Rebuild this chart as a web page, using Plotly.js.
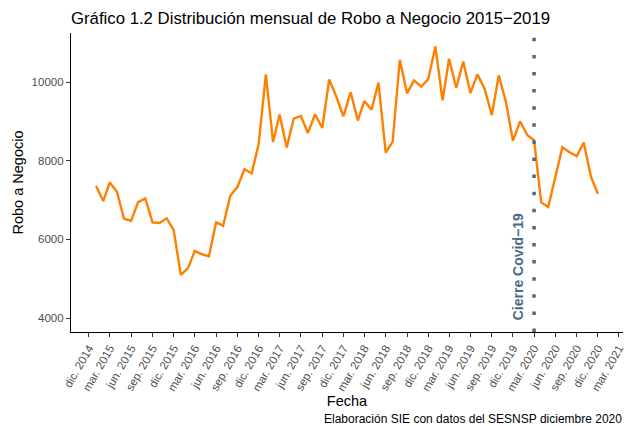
<!DOCTYPE html>
<html>
<head>
<meta charset="utf-8">
<script src="https://cdn.plot.ly/plotly-3.0.1.min.js"></script>
<style>html,body{margin:0;padding:0;background:#fff;}#chart{width:629px;height:426px;}</style>
</head>
<body>
<div id="chart"></div>
<script>
// Monthly series Jan 2015 – Dec 2020
const years = [2015, 2016, 2017, 2018, 2019, 2020];
const robo2015 = [7355, 6974, 7448, 7210, 6525, 6475, 6949, 7043, 6434, 6416, 6535, 6239];
const robo2016 = [5098, 5268, 5706, 5622, 5572, 6434, 6348, 7109, 7337, 7786, 7677, 8420];
const robo2017 = [10195, 8478, 9173, 8336, 9072, 9138, 8707, 9181, 8833, 10068, 9620, 9130];
const robo2018 = [9746, 9021, 9518, 9300, 9985, 8210, 8478, 10568, 9713, 10043, 9883, 10068];
const robo2019 = [10905, 9536, 10593, 9848, 10525, 9721, 10195, 9831, 9155, 10170, 9493, 8504];
const robo2020 = [9003, 8648, 8521, 6941, 6822, 7591, 8344, 8217, 8116, 8463, 7591, 7160];

const tickVals = ['2014-12-01','2015-03-01','2015-06-01','2015-09-01','2015-12-01','2016-03-01','2016-06-01','2016-09-01','2016-12-01','2017-03-01','2017-06-01','2017-09-01','2017-12-01','2018-03-01','2018-06-01','2018-09-01','2018-12-01','2019-03-01','2019-06-01','2019-09-01','2019-12-01','2020-03-01','2020-06-01','2020-09-01','2020-12-01','2021-03-01'];
const tickText = ['dic. 2014','mar. 2015','jun. 2015','sep. 2015','dic. 2015','mar. 2016','jun. 2016','sep. 2016','dic. 2016','mar. 2017','jun. 2017','sep. 2017','dic. 2017','mar. 2018','jun. 2018','sep. 2018','dic. 2018','mar. 2019','jun. 2019','sep. 2019','dic. 2019','mar. 2020','jun. 2020','sep. 2020','dic. 2020','mar. 2021'];
const yTickVals = [4000, 6000, 8000, 10000];
const yTickText = ['4000', '6000', '8000', '10000'];

const cierreFecha = '2020-03-01';
const cierreTexto = 'Cierre Covid\u221219';
const tituloTexto = 'Gráfico 1.2 Distribución mensual de Robo a Negocio 2015\u22122019';
const fuenteTexto = 'Elaboración SIE con datos del SESNSP diciembre 2020';

const series = [robo2015, robo2016, robo2017, robo2018, robo2019, robo2020];
const fechas = [];
const valores = [];
years.forEach((yr, i) => {
  series[i].forEach((v, m) => {
    fechas.push(yr + '-' + String(m + 1).padStart(2, '0') + '-01');
    valores.push(v);
  });
});

const FONT = 'Liberation Sans, Arial, Helvetica, sans-serif';
const blue = '#4B6A88';

const trace = {
  x: fechas, y: valores, type: 'scatter', mode: 'lines',
  line: {color: '#FF7F00', width: 2.4},
  hoverinfo: 'x+y'
};

const layout = {
  width: 629, height: 426,
  margin: {l: 71, r: 6, t: 33, b: 94},
  paper_bgcolor: '#fff', plot_bgcolor: '#fff',
  font: {family: FONT, color: '#000'},
  showlegend: false,
  title: {
    text: tituloTexto, font: {family: FONT, size: 16.75, color: '#000'},
    xref: 'paper', x: 0, xanchor: 'left',
    yref: 'container', y: 0.958, yanchor: 'middle'
  },
  xaxis: {
    type: 'date', range: ['2014-09-15', '2021-03-19'],
    showgrid: false, zeroline: false,
    showline: true, linecolor: '#000', linewidth: 1.1,
    ticks: 'outside', ticklen: 4, tickwidth: 1, tickcolor: '#333',
    tickmode: 'array', tickvals: tickVals, ticktext: tickText,
    tickangle: -60, tickfont: {family: FONT, size: 11.5, color: '#4D4D4D'},
    title: {text: 'Fecha', font: {family: FONT, size: 14.5, color: '#000'}, standoff: 1}
  },
  yaxis: {
    range: [3645, 11248],
    showgrid: false, zeroline: false,
    showline: true, linecolor: '#000', linewidth: 1.1,
    ticks: 'outside', ticklen: 4, tickwidth: 1, tickcolor: '#333',
    tickmode: 'array', tickvals: yTickVals, ticktext: yTickText,
    tickfont: {family: FONT, size: 11.5, color: '#4D4D4D'},
    title: {text: 'Robo a Negocio', font: {family: FONT, size: 14.5, color: '#000'}, standoff: 4}
  },
  shapes: [{
    type: 'line', xref: 'x', yref: 'paper',
    x0: cierreFecha, x1: cierreFecha, y0: 0, y1: 1,
    line: {color: blue, width: 3.5, dash: '3.5px,13.6px'}
  }],
  annotations: [
    {
      text: cierreTexto, x: cierreFecha, xref: 'x', y: 5308, yref: 'y',
      xanchor: 'center', yanchor: 'middle', xshift: -16.4, textangle: -90,
      showarrow: false, font: {family: FONT, size: 14, color: blue, weight: 'bold'}
    },
    {
      text: fuenteTexto, xref: 'paper', x: 1, xanchor: 'right', xshift: 1,
      yref: 'paper', y: -0.2925, yanchor: 'middle',
      showarrow: false, font: {family: FONT, size: 12, color: '#000'}
    }
  ]
};

Plotly.newPlot('chart', [trace], layout, {displayModeBar: false, staticPlot: true});
</script>
</body>
</html>
